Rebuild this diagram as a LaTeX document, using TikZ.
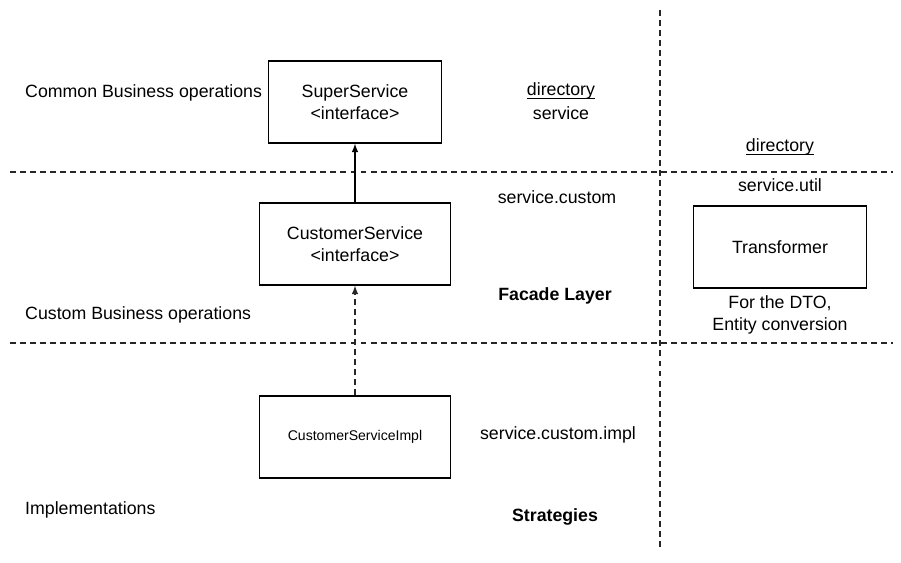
\documentclass[tikz,border=0pt]{standalone}
\usepackage{fontspec}
\setmainfont{Liberation Sans}
\usepackage{tikz}
\newcommand\dirline[1]{\setbox0\hbox{#1}\rlap{\rule[-1.6pt]{\wd0}{0.5pt}}#1}

\begin{document}
\begin{tikzpicture}[x=0.02cm, y=-0.02cm, font=\fontsize{10.1}{12.4}\selectfont, main/.style={draw, rectangle, minimum width=173*0.02cm, minimum height=82*0.02cm, line width=0.7pt, align=center}, wide/.style={main, minimum width=191*0.02cm}, lbl/.style={align=center}, side/.style={anchor=west}, sep/.style={line width=0.7pt, draw=black!85, dash pattern=on 3.4pt off 2.3pt}, n/.style={-latex, line width=0.7pt}, d/.style={-latex, line width=0.7pt, draw=black!85, dash pattern=on 3.4pt off 2.3pt}]
                \useasboundingbox (0,0) rectangle (901,563);
                % separators
                \draw [sep] (10,172) -- (893,172);
                \draw [sep] (10,343) -- (893,343);
                \draw [sep] (660,10) -- (660,548);
                % nodes
                \node[main] (super) at (355,102) {SuperService\\<interface>};
                \node[wide] (cust) at (355,244) {CustomerService\\<interface>};
                \node[wide, font=\fontsize{8}{10}\selectfont] (impl) at (355,437) {CustomerServiceImpl};
                \node[main] (trans) at (780,247) {Transformer};
                % labels
                \node[side] (common) at (19,93) {Common Business operations};
                \node[side] (custom) at (19,315) {Custom Business operations};
                \node[side] (impls) at (19,510) {Implementations};
                \node[lbl] (dir1) at (561,91) {\dirline{directory}};
                \node[lbl] (pkgsvc) at (561,113) {service};
                \node[lbl] (pkgcust) at (557,197) {service.custom};
                \node[lbl, font=\fontsize{10.1}{12.4}\selectfont\bfseries] (facade) at (555,296) {Facade Layer};
                \node[lbl] (pkgimpl) at (558,435) {service.custom.impl};
                \node[lbl, font=\fontsize{10.1}{12.4}\selectfont\bfseries] (strat) at (555,517) {Strategies};
                \node[lbl] (dir2) at (780,147) {\dirline{directory}};
                \node[lbl] (pkgutil) at (780,185) {service.util};
                \node[lbl] (conv) at (780,315) {For the DTO,\\Entity conversion};
                % edges
                \draw [n] (cust) -- (super);
                \draw [d] (impl) -- (cust);
            \end{tikzpicture}
\end{document}
